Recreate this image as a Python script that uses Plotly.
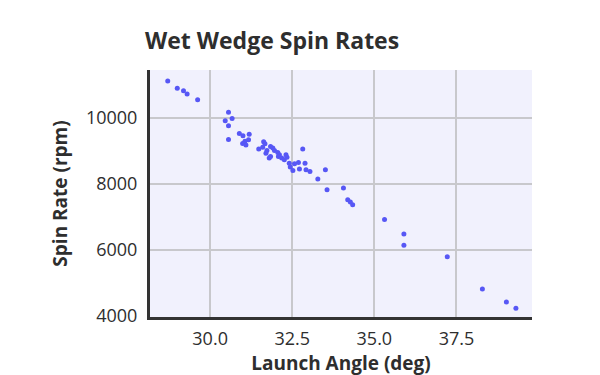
import plotly.graph_objects as go

launch_angle = [
    28.71, 29.00, 29.19, 29.30, 29.62,
    30.56, 30.46, 30.67, 30.56, 30.56,
    30.89, 31.00, 31.19, 31.17, 31.06, 30.99, 31.09,
    31.48, 31.63, 31.67, 31.60, 31.73, 31.70, 31.80, 31.84, 31.84, 31.91,
    31.96, 32.06, 32.11, 32.08, 32.18, 32.26, 32.31, 32.34, 32.41, 32.44,
    32.52, 32.57, 32.69, 32.72, 32.89, 32.82, 32.92, 33.04, 33.28, 33.51,
    33.56, 34.06, 34.19, 34.27, 34.34,
    35.31, 35.90, 35.90, 37.22, 38.29, 39.02, 39.31,
]
spin_rate = [
    11127, 10904, 10832, 10731, 10558,
    10182, 9918, 9991, 9767, 9354,
    9536, 9464, 9509, 9342, 9303, 9233, 9182,
    9061, 9283, 9222, 9121, 9020, 8939, 8788, 8839, 9141, 9091,
    9020, 8960, 8888, 8839, 8788, 8737, 8888, 8818, 8636, 8515,
    8414, 8616, 8657, 8455, 8636, 9061, 8434, 8384, 8152, 8434,
    7828, 7879, 7525, 7455, 7374,
    6930, 6485, 6142, 5797, 4818, 4424, 4233,
]

x_ticks = [30.0, 32.5, 35.0, 37.5]
x_tick_labels = ["30.0", "32.5", "35.0", "37.5"]
y_ticks = [4000, 6000, 8000, 10000]
y_tick_labels = ["4000", "6000", "8000", "10000"]

FONT = "Open Sans"
TXT = "#2e2e2e"

fig = go.Figure(
    go.Scatter(
        x=launch_angle,
        y=spin_rate,
        mode="markers",
        marker=dict(color="#5757f5", size=5),
        showlegend=False,
    )
)

fig.update_layout(
    width=600,
    height=375,
    margin=dict(l=142, r=76, t=62, b=66, autoexpand=False),
    paper_bgcolor="white",
    plot_bgcolor="#f1f1fd",
    font=dict(family=FONT, color=TXT, size=18),
    title=dict(
        text="Wet Wedge Spin Rates",
        font=dict(family=FONT, size=23, color=TXT, weight="bold"),
        xref="container", yref="container",
        x=137 / 600, xanchor="left",
        y=1 - 33 / 375, yanchor="middle",
    ),
)

fig.update_xaxes(
    range=[28.17, 39.80],
    tickvals=x_ticks,
    ticktext=x_tick_labels,
    showline=True, linecolor="#333333", linewidth=3,
    showgrid=True, gridcolor="#c8c8cc", gridwidth=1.5,
    zeroline=False,
    ticks="outside", ticklen=3, tickcolor="rgba(0,0,0,0)",
    tickfont=dict(family=FONT, size=18, color=TXT),
    title=dict(text="Launch Angle (deg)", standoff=8,
               font=dict(family=FONT, size=19, color=TXT, weight="bold")),
    automargin=False,
)
fig.update_yaxes(
    range=[3970, 11460],
    tickvals=y_ticks,
    ticktext=y_tick_labels,
    showline=True, linecolor="#333333", linewidth=3,
    showgrid=True, gridcolor="#c8c8cc", gridwidth=1.5,
    zeroline=False,
    ticks="outside", ticklen=6, tickcolor="rgba(0,0,0,0)",
    tickfont=dict(family=FONT, size=18, color=TXT),
    title=dict(text="Spin Rate (rpm)", standoff=14,
               font=dict(family=FONT, size=19, color=TXT, weight="bold")),
    automargin=False,
)

fig.write_html("out.html")
